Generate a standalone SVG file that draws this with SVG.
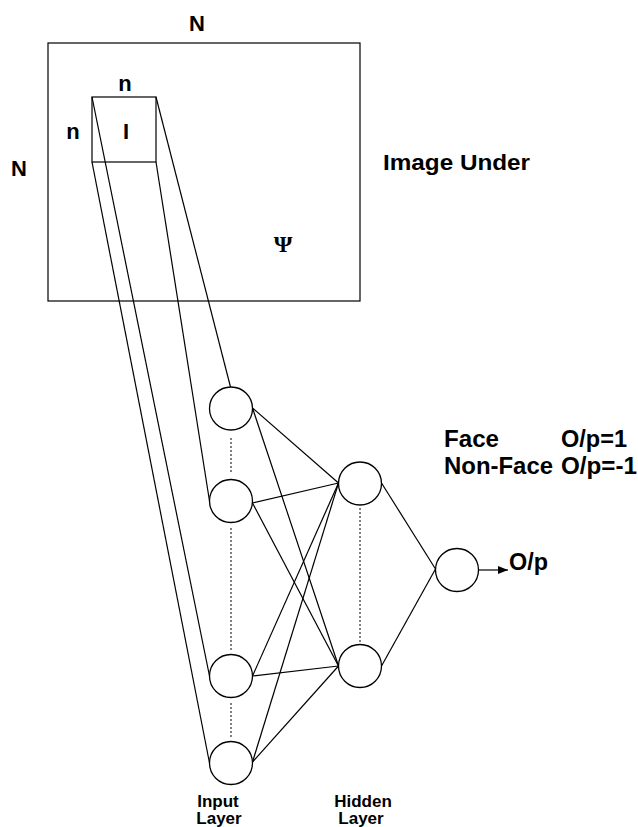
<svg xmlns="http://www.w3.org/2000/svg" width="638" height="827" viewBox="0 0 638 827">
<defs>
<style>
.t{font-family:"Liberation Sans",Arial,sans-serif;font-weight:bold;fill:#000}
.big{font-size:22px}
.lg{font-size:23px}
.sm{font-size:17px}
.ln{stroke:#000;stroke-width:1.2;fill:none}
.nd{stroke:#000;stroke-width:1.3;fill:#fff}
.dot{stroke:#000;stroke-width:1;stroke-dasharray:2 2;fill:none}
</style>
<marker id="ah" viewBox="0 0 10 10" refX="10" refY="5" markerWidth="10" markerHeight="10" markerUnits="userSpaceOnUse" orient="auto">
<path d="M0,1 L10,5 L0,9 z" fill="#000"/>
</marker>
</defs>
<rect width="638" height="827" fill="#fff"/>

<g id="image">
<rect x="48" y="43" width="312" height="258" class="ln"/>
<text class="t big" x="197" y="31" text-anchor="middle">N</text>
<text class="t big" x="19" y="176" text-anchor="middle">N</text>
<text class="t big" x="383" y="170" textLength="147" lengthAdjust="spacingAndGlyphs">Image Under</text>
<text x="283" y="252" text-anchor="middle" style="font-family:'Liberation Serif','Times New Roman',serif;font-weight:bold;font-size:24px">Ψ</text>
</g>

<g id="window">
<rect x="92" y="97" width="64" height="65" class="ln"/>
<text class="t big" x="125" y="91" text-anchor="middle">n</text>
<text class="t big" x="73" y="139" text-anchor="middle">n</text>
<text class="t big" x="126" y="139" text-anchor="middle">I</text>
</g>

<g id="connectors">
<line class="ln" x1="156" y1="97" x2="230.5" y2="387"/>
<line class="ln" x1="156" y1="162" x2="209.5" y2="501"/>
<line class="ln" x1="92" y1="97" x2="209.5" y2="676"/>
<line class="ln" x1="92" y1="162" x2="209.5" y2="763"/>

<line class="ln" x1="252.5" y1="408" x2="338.5" y2="483"/>
<line class="ln" x1="252.5" y1="408" x2="338.5" y2="666"/>
<line class="ln" x1="252.5" y1="503" x2="338.5" y2="483"/>
<line class="ln" x1="252.5" y1="503" x2="338.5" y2="666"/>
<line class="ln" x1="252.5" y1="676" x2="338.5" y2="483"/>
<line class="ln" x1="252.5" y1="676" x2="338.5" y2="666"/>
<line class="ln" x1="252.5" y1="762" x2="338.5" y2="483"/>
<line class="ln" x1="252.5" y1="762" x2="338.5" y2="666"/>

<line class="ln" x1="381.5" y1="483" x2="435.5" y2="569"/>
<line class="ln" x1="381.5" y1="666" x2="435.5" y2="569"/>
<line class="ln" x1="478.5" y1="570" x2="508" y2="570" marker-end="url(#ah)"/>

<line class="dot" x1="231" y1="438" x2="231" y2="472"/>
<line class="dot" x1="231" y1="528" x2="231" y2="652"/>
<line class="dot" x1="231" y1="703" x2="231" y2="737"/>
<line class="dot" x1="360" y1="508" x2="360" y2="642"/>
</g>

<g id="input1"><circle class="nd" cx="231" cy="408.5" r="21.5"/></g>
<g id="input2"><circle class="nd" cx="231" cy="501" r="21.5"/></g>
<g id="input3"><circle class="nd" cx="231" cy="676" r="21.5"/></g>
<g id="input4"><circle class="nd" cx="231" cy="763" r="21.5"/></g>
<g id="hidden1"><circle class="nd" cx="360" cy="483.5" r="21.5"/></g>
<g id="hidden2"><circle class="nd" cx="360" cy="666" r="21.5"/></g>
<g id="output"><circle class="nd" cx="457" cy="570" r="21.5"/>
<text class="t lg" x="509" y="570" textLength="39" lengthAdjust="spacingAndGlyphs">O/p</text>
</g>

<g id="legend">
<text class="t lg" x="444" y="447" textLength="55" lengthAdjust="spacingAndGlyphs">Face</text>
<text class="t lg" x="561" y="447" textLength="66" lengthAdjust="spacingAndGlyphs">O/p=1</text>
<text class="t lg" x="444" y="474" textLength="109" lengthAdjust="spacingAndGlyphs">Non-Face</text>
<text class="t lg" x="561" y="474" textLength="76" lengthAdjust="spacingAndGlyphs">O/p=-1</text>
</g>

<g id="labels">
<text class="t sm" x="218" y="807" text-anchor="middle">Input</text>
<text class="t sm" x="219" y="824" text-anchor="middle">Layer</text>
<text class="t sm" x="363" y="807" text-anchor="middle">Hidden</text>
<text class="t sm" x="361" y="824" text-anchor="middle">Layer</text>
</g>
</svg>
